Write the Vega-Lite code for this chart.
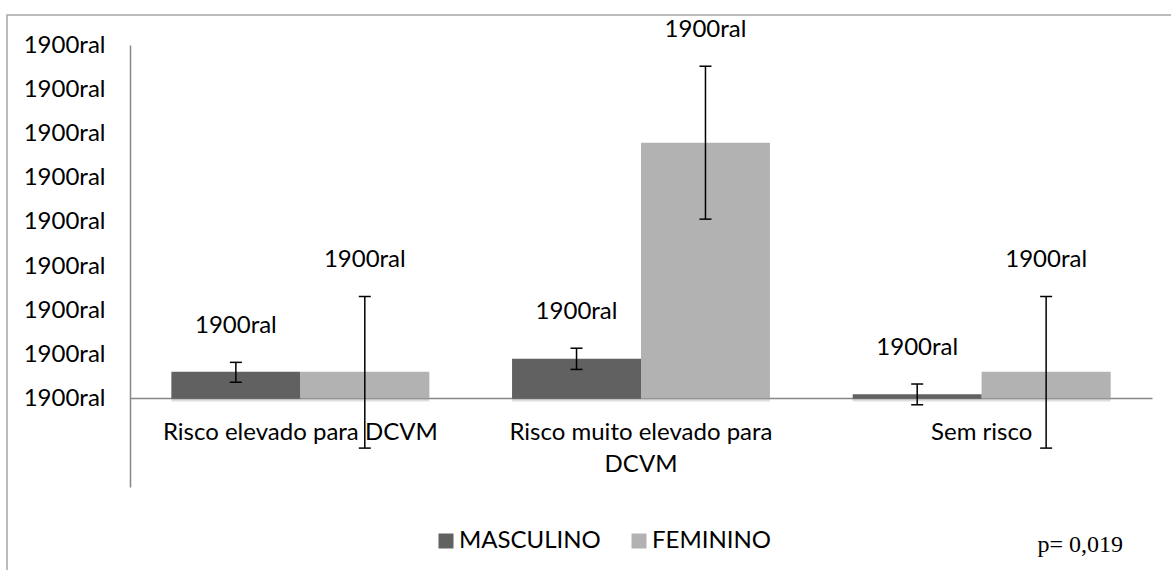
{
  "$schema": "https://vega.github.io/schema/vega-lite/v6.json",
  "width": 1170,
  "height": 570,
  "autosize": "none",
  "padding": {"left": 7, "top": 15, "right": 0, "bottom": 0},
  "background": "white",
  "title": {
    "text": "p= 0,019",
    "orient": "bottom",
    "anchor": "end",
    "frame": "group",
    "font": "Liberation Serif",
    "fontSize": 24,
    "fontWeight": "normal",
    "color": "black",
    "offset": -52,
    "dx": -54
  },
  "config": {
    "font": "Lato",
    "view": {"stroke": "#a6a6a6", "strokeWidth": 1.5},
    "axisY": {
      "domainColor": "#868686",
      "domainWidth": 1.5,
      "ticks": false,
      "tickSize": 0,
      "grid": false,
      "labelFont": "Lato",
      "labelFontSize": 24,
      "labelColor": "black",
      "labelPadding": 25,
      "offset": -123,
      "title": null
    },
    "axisX": {
      "domainColor": "#868686",
      "domainWidth": 1.5,
      "ticks": false,
      "tickSize": 0,
      "grid": false,
      "labelFont": "Lato",
      "labelFontSize": 24,
      "labelColor": "black",
      "labelPadding": 22,
      "labelAngle": 0,
      "labelLimit": 500,
      "labelLineHeight": 32,
      "offset": -187,
      "title": null
    }
  },
  "data": {
    "values": [
      {"risco": "Risco elevado para DCVM", "sexo": "MASCULINO", "media": 0.61, "inf": 0.37, "sup": 0.82, "rotulo": "1900ral"},
      {"risco": "Risco elevado para DCVM", "sexo": "FEMININO", "media": 0.61, "inf": -1.12, "sup": 2.31, "rotulo": "1900ral"},
      {"risco": "Risco muito elevado para DCVM", "sexo": "MASCULINO", "media": 0.90, "inf": 0.66, "sup": 1.14, "rotulo": "1900ral"},
      {"risco": "Risco muito elevado para DCVM", "sexo": "FEMININO", "media": 5.79, "inf": 4.06, "sup": 7.52, "rotulo": "1900ral"},
      {"risco": "Sem risco", "sexo": "MASCULINO", "media": 0.10, "inf": -0.14, "sup": 0.33, "rotulo": "1900ral"},
      {"risco": "Sem risco", "sexo": "FEMININO", "media": 0.61, "inf": -1.12, "sup": 2.31, "rotulo": "1900ral"}
    ]
  },
  "encoding": {
    "x": {
      "field": "risco",
      "type": "nominal",
      "sort": ["Risco elevado para DCVM", "Risco muito elevado para DCVM", "Sem risco"],
      "scale": {"range": [123, 1145], "paddingInner": 0.243, "paddingOuter": 0.1215},
      "axis": {
        "labelExpr": "datum.value == 'Risco muito elevado para DCVM' ? ['Risco muito elevado para', 'DCVM'] : datum.value"
      }
    },
    "xOffset": {
      "field": "sexo",
      "type": "nominal",
      "sort": ["MASCULINO", "FEMININO"],
      "scale": {"paddingInner": 0, "paddingOuter": 0}
    }
  },
  "layer": [
    {
      "mark": {"type": "bar", "color": "black", "opacity": 0.13, "xOffset": 2, "yOffset": 3},
      "encoding": {
        "y": {
          "field": "media",
          "type": "quantitative",
          "scale": {"domain": [-2, 8], "range": [472, 30]},
          "axis": {"values": [0, 1, 2, 3, 4, 5, 6, 7, 8], "labelExpr": "'1900ral'", "title": null}
        }
      }
    },
    {
      "mark": {"type": "bar"},
      "encoding": {
        "y": {"field": "media", "type": "quantitative"},
        "color": {
          "field": "sexo",
          "type": "nominal",
          "sort": ["MASCULINO", "FEMININO"],
          "scale": {"domain": ["MASCULINO", "FEMININO"], "range": ["#616161", "#b2b2b2"]},
          "legend": {
            "orient": "none",
            "legendX": 427,
            "legendY": 514,
            "padding": 0,
            "direction": "horizontal",
            "title": null,
            "symbolType": "square",
            "symbolSize": 225,
            "symbolStrokeWidth": 0,
            "symbolOpacity": 1,
            "labelFont": "Lato",
            "labelFontSize": 24,
            "labelColor": "black",
            "labelOffset": 1,
            "columnPadding": 26
          }
        }
      }
    },
    {
      "mark": {"type": "rule", "color": "black", "strokeWidth": 1.5},
      "encoding": {
        "y": {"field": "inf", "type": "quantitative"},
        "y2": {"field": "sup"}
      }
    },
    {
      "mark": {"type": "tick", "color": "black", "thickness": 1.5, "size": 12, "opacity": 1},
      "encoding": {"y": {"field": "inf", "type": "quantitative"}}
    },
    {
      "mark": {"type": "tick", "color": "black", "thickness": 1.5, "size": 12, "opacity": 1},
      "encoding": {"y": {"field": "sup", "type": "quantitative"}}
    },
    {
      "mark": {"type": "text", "dy": -36, "fontSize": 24, "font": "Lato", "color": "black", "baseline": "middle"},
      "encoding": {
        "y": {"field": "sup", "type": "quantitative"},
        "text": {"field": "rotulo"}
      }
    }
  ]
}
